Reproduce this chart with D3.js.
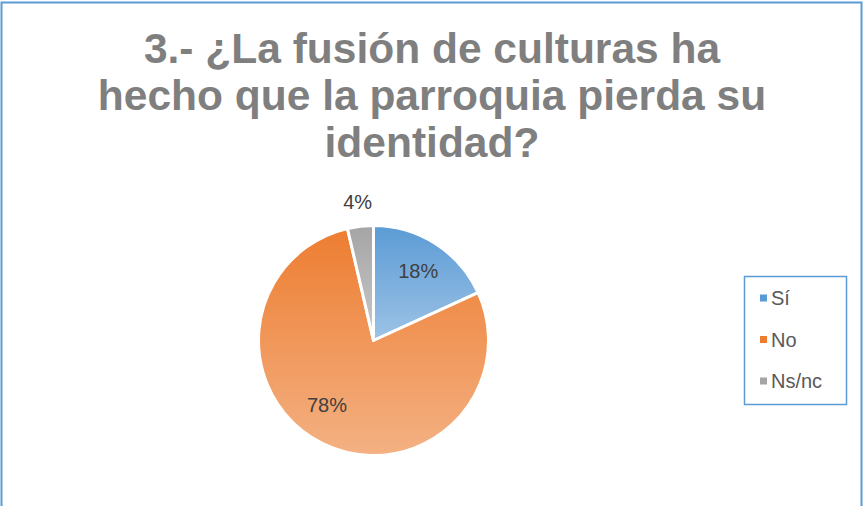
<!DOCTYPE html>
<html>
<head>
<meta charset="utf-8">
<script src="https://cdn.jsdelivr.net/npm/d3@7"></script>
<style>
  html, body { margin: 0; padding: 0; background: #fff; }
  svg { display: block; }
</style>
</head>
<body>
<svg id="chart" width="864" height="506"></svg>
<script>
const titleLines = ["3.- ¿La fusión de culturas ha", "hecho que la parroquia pierda su", "identidad?"];
const categories = ["Sí", "No", "Ns/nc"];
const counts = [10, 43, 2];
const colorsTop = ["#5b9bd5", "#ed7d31", "#a5a5a5"];
const colorsBottom = ["#9dc3e6", "#f4b183", "#c9c9c9"];

const svg = d3.select("#chart");

// chart border
svg.append("rect").attr("x", 1.5).attr("y", 2.5).attr("width", 860).attr("height", 520)
  .attr("fill", "#fff").attr("stroke", "#5b9bd5").attr("stroke-width", 2);

// title
const title = svg.append("text").attr("text-anchor", "middle")
  .attr("font-family", "Liberation Sans, Arial, sans-serif")
  .attr("font-weight", "bold").attr("font-size", 42.5).attr("fill", "#7f7f7f");
titleLines.forEach((t, i) => {
  title.append("tspan").attr("x", 432).attr("y", 63 + i * 47).text(t);
});

// gradients
const defs = svg.append("defs");
categories.forEach((c, i) => {
  const g = defs.append("linearGradient").attr("id", "grad" + i)
    .attr("x1", 0).attr("y1", 0).attr("x2", 0).attr("y2", 1);
  g.append("stop").attr("offset", "0%").attr("stop-color", colorsTop[i]);
  g.append("stop").attr("offset", "100%").attr("stop-color", colorsBottom[i]);
});

const cx = 373.5, cy = 340.5, r = 115;
const total = d3.sum(counts);
const pie = d3.pie().sort(null).value(d => d);
const arcs = pie(counts);
const arc = d3.arc().innerRadius(0).outerRadius(r);
const g = svg.append("g").attr("transform", `translate(${cx},${cy})`);

g.selectAll("path").data(arcs).join("path")
  .attr("d", arc)
  .attr("fill", (d, i) => `url(#grad${i})`)
  .attr("stroke", "#fff").attr("stroke-width", 3).attr("stroke-linejoin", "round");

// data labels (best-fit style placement: radius factor and angular nudge)
const labelR = [0.72, 0.69, 1.21];
const labelNudge = [0, 0.17, 0];
const fmt = d => Math.round(d.value / total * 100) + "%";
g.selectAll("text.lbl").data(arcs).join("text")
  .attr("class", "lbl")
  .attr("transform", (d, i) => {
    const a = (d.startAngle + d.endAngle) / 2 + labelNudge[i];
    const rr = r * labelR[i];
    return `translate(${rr * Math.sin(a)},${-rr * Math.cos(a)})`;
  })
  .attr("text-anchor", "middle").attr("dominant-baseline", "central")
  .attr("font-family", "Liberation Sans, Arial, sans-serif")
  .attr("font-size", 20).attr("fill", "#404040")
  .text(fmt);

// legend
const legend = svg.append("g");
legend.append("rect").attr("x", 744.5).attr("y", 276.5).attr("width", 102).attr("height", 128)
  .attr("fill", "#fff").attr("stroke", "#5b9bd5").attr("stroke-width", 1.5);
const ly = d3.scalePoint().domain(categories).range([298, 381]);
const items = legend.selectAll("g.item").data(categories).join("g").attr("class", "item")
  .attr("transform", d => `translate(760,${ly(d)})`);
items.append("rect").attr("x", 0).attr("y", -3.5).attr("width", 7).attr("height", 7)
  .attr("fill", (d, i) => colorsTop[i]);
items.append("text").attr("x", 11).attr("y", 0).attr("dominant-baseline", "central")
  .attr("font-family", "Liberation Sans, Arial, sans-serif").attr("font-size", 20)
  .attr("fill", "#595959").text(d => d);
</script>
</body>
</html>
